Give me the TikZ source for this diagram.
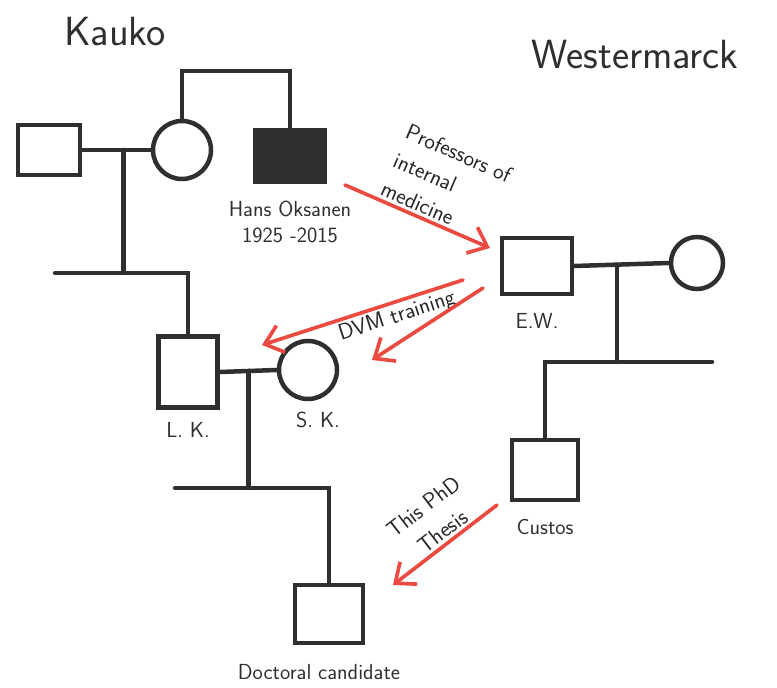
\documentclass[tikz,border=0pt]{standalone}
\usepackage{fontspec}
\usepackage{tikz}
\usetikzlibrary{arrows.meta,positioning}
\definecolor{ink}{HTML}{2F2F2F}
\definecolor{pen}{HTML}{EA4A40}
\newcommand{\titlefont}{\sffamily\fontsize{29}{34}\selectfont}
\newcommand{\hand}{\sffamily\fontsize{15.5}{18}\selectfont}
\newcommand{\notefont}{\sffamily\fontsize{16}{22}\selectfont}

\begin{document}
\begin{tikzpicture}[
  x=0.025cm, y=-0.025cm,
  male/.style={draw=ink, line width=3.2pt, inner sep=0pt, minimum width=1.7cm, minimum height=1.4cm},
  female/.style={draw=ink, circle, line width=3.2pt, inner sep=0pt, minimum size=1.4cm},
  tie/.style={draw=ink, line width=3.2pt, line cap=round},
  mentor/.style={draw=pen, line width=2.6pt, line cap=round, -{Straight Barb[length=12pt, width=20pt]}},
  tag/.style={font=\hand, text=ink, align=center},
  note/.style={font=\notefont, text=black!85, align=left, inner sep=2pt}
]
  \useasboundingbox (0,0) rectangle (777,688);

  % Family names
  \node[font=\titlefont, text=ink] (kauko) at (115,32) {Kauko};
  \node[font=\titlefont, text=ink] (wester) at (635,55) {Westermarck};

  % Kauko grandparents and Hans
  \node[male, minimum width=1.55cm, minimum height=1.25cm] (kfather) at (49,150) {};
  \node[female, minimum size=1.45cm] (kmother) at (182,150) {};
  \node[male, fill=ink, minimum width=1.75cm, minimum height=1.3cm] (hans) at (290,156) {};
  \node[tag, below=0.3cm of hans] (hanstag) {Hans Oksanen\\1925 -2015};
  \coordinate (sibtop) at (236,71);
  \draw[tie] (kmother.north) |- (sibtop) -| (hans.north);
  \draw[tie] (kfather.east) -- (kmother.west);
  \path (kfather.east) -- coordinate[pos=0.6] (kmar) (kmother.west);

  % L.K. and S.K.
  \node[male, minimum width=1.475cm, minimum height=1.775cm] (lk) at (188,372) {};
  \node[female, minimum size=1.45cm] (sk) at (308,370) {};
  \node[tag, below=0.2cm of lk] (lktag) {L. K.};
  \node[tag, below=0.15cm of sk, xshift=0.25cm] (sktag) {S. K.};
  \coordinate (sibmid) at (55,273);
  \draw[tie] (kmar) -- (kmar |- sibmid);
  \draw[tie] (sibmid) -| (lk.north);
  \draw[tie] (lk.east) -- (sk.west);
  \path (lk.east) -- coordinate[pos=0.5] (lkmar) (sk.west);

  % Doctoral candidate
  \node[male, minimum width=1.7cm, minimum height=1.45cm] (cand) at (329,614) {};
  \node[tag, below=0.35cm of cand, xshift=-0.25cm] (candtag) {Doctoral candidate};
  \coordinate (sibbot) at (175,488);
  \draw[tie] (lkmar) -- (lkmar |- sibbot);
  \draw[tie] (sibbot) -| (cand.north);

  % Westermarck side
  \node[male, minimum width=1.75cm, minimum height=1.4cm] (ew) at (537,266) {};
  \node[female, minimum size=1.3cm] (ewwife) at (697,263) {};
  \node[tag, below=0.3cm of ew] (ewtag) {E.W.};
  \draw[tie] (ew.east) -- (ewwife.west);
  \path (ew.east) -- coordinate[pos=0.45] (ewmar) (ewwife.west);
  \node[male, minimum width=1.65cm, minimum height=1.5cm] (custos) at (545,470) {};
  \node[tag, below=0.3cm of custos] (custostag) {Custos};
  \coordinate (sibright) at (712,362);
  \draw[tie] (ewmar) -- (ewmar |- sibright);
  \draw[tie] (custos.north) |- (sibright);

  % Academic lineage
  \coordinate (prof-from) at (345,185);
  \coordinate (prof-to) at (490,248);
  \draw[mentor] (prof-from) -- node[note, sloped, above, pos=0.58] {Professors of\\internal\\medicine} (prof-to);

  \coordinate (dvm-from) at (463,280);
  \coordinate (dvm-to-lk) at (262,345);
  \coordinate (dvm-from2) at (483,288);
  \coordinate (dvm-to-sk) at (372,360);
  \draw[mentor] (dvm-from) -- node[note, sloped, below, pos=0.35] {DVM training} (dvm-to-lk);
  \draw[mentor] (dvm-from2) -- (dvm-to-sk);

  \coordinate (phd-from) at (497,505);
  \coordinate (phd-to) at (393,585);
  \draw[mentor] (phd-from) -- node[note, sloped, above, pos=0.45, align=center] {This PhD\\Thesis} (phd-to);

\end{tikzpicture}
\end{document}
